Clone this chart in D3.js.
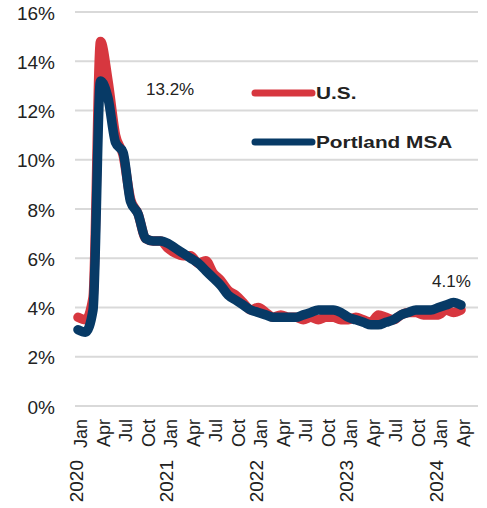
<!DOCTYPE html>
<html>
<head>
<meta charset="utf-8">
<script src="https://cdn.jsdelivr.net/npm/d3@7"></script>
<style>
  body { margin: 0; background: #fff; }
  svg text { font-family: "Liberation Sans", Arial, sans-serif; fill: #222; }
</style>
</head>
<body>
<div id="chart"></div>
<script>
// monthly unemployment rate, Jan 2020 - Apr 2024
const years = ["2020", "2021", "2022", "2023", "2024"]
const monthNames = ["Jan", "Feb", "Mar", "Apr", "May", "Jun", "Jul", "Aug", "Sep", "Oct", "Nov", "Dec"]

const usRate = [
    3.6, 3.5, 4.4, 14.8, 13.2, 11.0, 10.2, 8.4, 7.8, 6.8, 6.7, 6.7,
    6.4, 6.2, 6.1, 6.1, 5.8, 5.9, 5.4, 5.1, 4.7, 4.5, 4.2, 3.9,
    4.0, 3.8, 3.6, 3.7, 3.6, 3.6, 3.5, 3.6, 3.5, 3.6, 3.6, 3.5,
    3.5, 3.6, 3.5, 3.4, 3.7, 3.6, 3.5, 3.7, 3.8, 3.8, 3.7, 3.7,
    3.7, 3.9, 3.8, 3.9
]
const portlandRate = [
    3.1, 3.0, 3.9, 13.2, 12.5, 10.7, 10.3, 8.3, 7.8, 6.8, 6.7, 6.7,
    6.6, 6.4, 6.2, 6.0, 5.8, 5.5, 5.2, 4.9, 4.5, 4.3, 4.1, 3.9,
    3.8, 3.7, 3.6, 3.6, 3.6, 3.6, 3.7, 3.8, 3.9, 3.9, 3.9, 3.8,
    3.6, 3.5, 3.4, 3.3, 3.3, 3.4, 3.5, 3.7, 3.8, 3.9, 3.9, 3.9,
    4.0, 4.1, 4.2, 4.1
]
const yTicks = [0, 2, 4, 6, 8, 10, 12, 14, 16]
const labelledMonths = ["Jan", "Apr", "Jul", "Oct"]

const seriesNames = ["U.S.", "Portland MSA"]
const seriesColors = ["#d7373f", "#073a66"]

// category keys like "2020 Jan"
let months = []
years.forEach(function (yr) {
    monthNames.forEach(function (m) { months.push(yr + " " + m) })
})
months = months.slice(0, usRate.length)

let width = 487,
    height = 508;

let svg = d3.select('#chart')
    .append('svg')
    .attr("width", width)
    .attr("height", height)

let x = d3.scalePoint().domain(months).range([78, 461])
let y = d3.scaleLinear().domain([0, 16]).range([406, 12])

// gridlines
svg.selectAll(".grid")
    .data(yTicks)
    .enter().append("line")
    .attr("class", "grid")
    .attr("x1", 75)
    .attr("x2", 478)
    .attr("y1", function (d) { return y(d) })
    .attr("y2", function (d) { return y(d) })
    .attr("stroke", "#d9d9d9")
    .attr("stroke-width", 2)

svg.selectAll(".ytick")
    .data(yTicks)
    .enter().append("text")
    .attr("class", "ytick")
    .attr("x", 55)
    .attr("y", function (d) { return y(d) + 1 })
    .attr("text-anchor", "end")
    .attr("dominant-baseline", "central")
    .style("font-size", "19px")
    .text(function (d) { return d + "%" })

// month labels (every quarter) and year labels
let tickMonths = months.filter(function (m) { return labelledMonths.indexOf(m.split(" ")[1]) >= 0 })

svg.selectAll(".xtick")
    .data(tickMonths)
    .enter().append("text")
    .attr("class", "xtick")
    .attr("transform", function (d) { return "translate(" + (x(d) + 9) + ",419) rotate(-90)" })
    .attr("text-anchor", "end")
    .style("font-size", "18px")
    .text(function (d) { return d.split(" ")[1] })

svg.selectAll(".year")
    .data(tickMonths.filter(function (m) { return m.split(" ")[1] === "Jan" }))
    .enter().append("text")
    .attr("class", "year")
    .attr("transform", function (d) { return "translate(" + (x(d) + 5) + ",460) rotate(-90)" })
    .attr("text-anchor", "end")
    .style("font-size", "19px")
    .text(function (d) { return d.split(" ")[0] })

// lines
let line = d3.line()
    .x(function (d, i) { return x(months[i]) })
    .y(function (d) { return y(d) })
    .curve(d3.curveMonotoneX)

svg.selectAll(".series")
    .data([usRate, portlandRate])
    .enter().append("path")
    .attr("class", "series")
    .attr("d", line)
    .attr("fill", "none")
    .attr("stroke", function (d, i) { return seriesColors[i] })
    .attr("stroke-width", 9.5)
    .attr("stroke-linejoin", "round")
    .attr("stroke-linecap", "round")

// value callouts
let peak = d3.max(portlandRate)
svg.append("text")
    .attr("x", 146)
    .attr("y", 95)
    .style("font-size", "17px")
    .text(peak.toFixed(1) + "%")

svg.append("text")
    .attr("x", 432)
    .attr("y", 287)
    .style("font-size", "17px")
    .text(portlandRate[portlandRate.length - 1].toFixed(1) + "%")

// legend
let legendY = [93, 142]
let legend = svg.selectAll(".legend")
    .data(seriesNames)
    .enter().append("g")
    .attr("class", "legend")
    .attr("transform", function (d, i) { return "translate(255," + legendY[i] + ")" })

legend.append("line")
    .attr("x1", 0)
    .attr("x2", 57)
    .attr("stroke", function (d, i) { return seriesColors[i] })
    .attr("stroke-width", 7)
    .attr("stroke-linecap", "round")

legend.append("text")
    .attr("transform", "translate(61,5.5) scale(1.3,1)")
    .style("font-size", "16px")
    .style("font-weight", "bold")
    .text(function (d) { return d })
</script>
</body>
</html>
